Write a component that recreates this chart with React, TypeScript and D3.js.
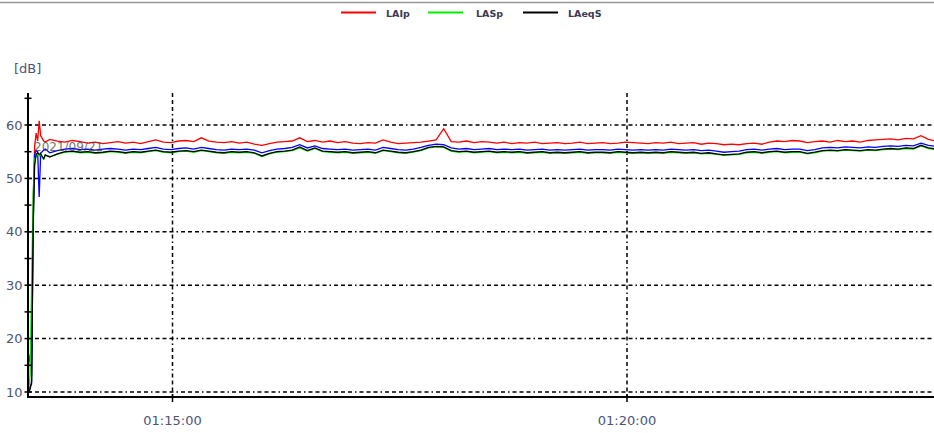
import React from "react";
import * as d3 from "d3";

// ---- data ----
const seriesNames = ["LAIp", "LASp", "LAeqS"];
const seriesColors = ["#ff0000", "#00ee00", "#000000"];
const startTime = "01:13:24"; // time of first sample
const xTickLabels = ["01:15:00", "01:20:00"];
const yTickLabels = [10, 20, 30, 40, 50, 60];
const yMinorTicks = [15, 25, 35, 45, 55, 65];
const dateLabel = "2021/09/21";

// first seconds sampled every second
const startOffsets = [0, 1, 2, 3, 4, 5, 6, 7, 8, 9, 10, 11, 12];
const redStart = [11, 15, 17, 13, 45, 56, 58.5, 57, 60.8, 58, 57.5, 57, 56.8];
const greenStart = [10, 10.5, 13, 30, 47, 53.5, 54.3, 54.5, 54.2, 54.5, 54, 53.6, 54.3];
const blueStart = [10, 10.3, 11, 11.5, 40, 54.5, 55.2, 55, 46.5, 54.8, 55, 55.3, 55.5];
const blackStart = [10, 10, 10.5, 12, 41, 52.5, 54.5, 54.8, 54.5, 54.6, 54.1, 53.7, 54.4];

// afterwards every 5 seconds, starting at second 15
const mainStart = 15;
const mainStep = 5;
const redMain = [
  57.3, 57.0, 56.8, 57.1, 56.9, 56.6, 56.8, 56.5, 56.7, 56.9,
  56.6, 56.8, 56.5, 56.9, 57.2, 56.8, 56.7, 57.0, 57.1, 56.9,
  57.6, 57.0, 56.8, 56.7, 56.9, 56.6, 56.8, 56.4, 56.2, 56.5,
  56.8, 56.9, 57.0, 57.6, 56.9, 57.1, 56.8, 57.0, 56.7, 56.9,
  56.6, 56.5, 56.7, 56.6, 57.2, 56.8, 56.5, 56.6, 56.7, 56.8,
  57.0, 57.2, 59.3, 56.9, 56.8, 57.0, 56.7, 56.9, 56.8, 56.6,
  56.8, 56.5, 56.7, 56.6, 56.8, 56.5, 56.6, 56.7, 56.5, 56.6,
  56.8, 56.5, 56.6, 56.7, 56.5, 56.6, 56.8, 56.7, 56.6, 56.5,
  56.7, 56.6, 56.8, 56.5, 56.6, 56.7, 56.4, 56.6, 56.5, 56.3,
  56.4, 56.3, 56.5, 56.6, 56.4, 56.8, 57.0, 56.9, 57.1, 57.0,
  56.7, 56.9, 57.0, 56.8, 57.1, 56.9, 57.0, 56.8, 57.1, 57.2,
  57.3, 57.4, 57.2, 57.5, 57.4, 58.0, 57.3, 57.0,
];
const blueMain = [
  54.8, 55.2, 55.5, 55.6, 55.4, 55.5, 55.3, 55.5, 55.6, 55.5,
  55.3, 55.5, 55.4, 55.6, 55.8, 55.5, 55.4, 55.6, 55.7, 55.5,
  55.8, 55.6, 55.4, 55.3, 55.5, 55.4, 55.5, 55.3, 54.8, 55.2,
  55.5, 55.6, 55.8, 56.3, 55.7, 56.1, 55.6, 55.5, 55.4, 55.5,
  55.3, 55.4, 55.5, 55.3, 55.8, 55.6, 55.4, 55.3, 55.5, 55.8,
  56.2, 56.4, 56.3, 55.7, 55.5, 55.6, 55.4, 55.5, 55.6, 55.4,
  55.5, 55.4, 55.5, 55.3, 55.4, 55.5, 55.3, 55.4, 55.3, 55.4,
  55.5, 55.3, 55.4, 55.4, 55.3, 55.5, 55.4, 55.3, 55.4, 55.3,
  55.4, 55.3, 55.5, 55.4, 55.3, 55.4, 55.2, 55.3, 55.1, 54.9,
  55.0, 55.1, 55.4, 55.5, 55.3, 55.5, 55.6, 55.4, 55.5, 55.5,
  55.2, 55.4, 55.7, 55.8, 55.7, 55.9, 55.8, 55.7, 55.9, 55.8,
  56.0, 56.1, 56.0, 56.2, 56.1, 56.6, 56.2, 56.0,
];
const greenMain = [
  54.1, 54.5, 54.9, 55.0, 54.8, 54.9, 54.7, 54.8, 55.0, 54.9,
  54.7, 54.9, 54.8, 55.0, 55.2, 54.9, 54.8, 55.0, 55.1, 54.9,
  55.2, 55.0, 54.8, 54.7, 54.9, 54.8, 54.9, 54.7, 54.1, 54.6,
  54.9, 55.0, 55.2, 55.7, 55.1, 55.6, 55.0, 54.9, 54.8, 54.9,
  54.7, 54.8, 54.9, 54.7, 55.2, 55.0, 54.8, 54.7, 54.9, 55.2,
  55.7, 55.9, 55.8, 55.1, 54.9, 55.0, 54.8, 54.9, 55.0, 54.8,
  54.9, 54.8, 54.9, 54.7, 54.8, 54.9, 54.7, 54.8, 54.7, 54.8,
  54.9, 54.7, 54.8, 54.8, 54.7, 54.9, 54.8, 54.7, 54.8, 54.7,
  54.8, 54.7, 54.9, 54.8, 54.7, 54.8, 54.6, 54.7, 54.5, 54.3,
  54.4, 54.5, 54.8, 54.9, 54.7, 54.9, 55.0, 54.8, 54.9, 54.9,
  54.6, 54.8, 55.1, 55.2, 55.1, 55.3, 55.2, 55.1, 55.3, 55.2,
  55.4, 55.5, 55.4, 55.6, 55.5, 56.1, 55.6, 55.4,
];
const blackMain = [
  54.0, 54.6, 55.0, 55.1, 54.9, 55.0, 54.8, 54.9, 55.1, 55.0,
  54.8, 55.0, 54.9, 55.1, 55.3, 55.0, 54.9, 55.1, 55.2, 55.0,
  55.3, 55.1, 54.9, 54.8, 55.0, 54.9, 55.0, 54.8, 54.2, 54.7,
  55.0, 55.1, 55.3, 55.9, 55.2, 55.7, 55.1, 55.0, 54.9, 55.0,
  54.8, 54.9, 55.0, 54.8, 55.3, 55.1, 54.9, 54.8, 55.0, 55.3,
  55.8, 56.0, 55.9, 55.2, 55.0, 55.1, 54.9, 55.0, 55.1, 54.9,
  55.0, 54.9, 55.0, 54.8, 54.9, 55.0, 54.8, 54.9, 54.8, 54.9,
  55.0, 54.8, 54.9, 54.9, 54.8, 55.0, 54.9, 54.8, 54.9, 54.8,
  54.9, 54.8, 55.0, 54.9, 54.8, 54.9, 54.7, 54.8, 54.6, 54.4,
  54.5, 54.6, 54.9, 55.0, 54.8, 55.0, 55.1, 54.9, 55.0, 55.0,
  54.7, 54.9, 55.2, 55.3, 55.2, 55.4, 55.3, 55.2, 55.4, 55.3,
  55.5, 55.6, 55.5, 55.7, 55.6, 56.2, 55.7, 55.5,
];

// ---- helpers ----
const toSec = (s: string) => {
  const [h, m, x] = s.split(":").map(Number);
  return h * 3600 + m * 60 + x;
};
const t0 = toSec(startTime);
const offsets = startOffsets.concat(redMain.map((_, i) => mainStart + i * mainStep));
const build = (a: number[], b: number[]) =>
  a.concat(b).map((v, i) => ({ t: t0 + offsets[i], v }));

const W = 934;
const H = 433;

export default function App() {
  const x = d3
    .scaleLinear()
    .domain([toSec("01:15:00"), toSec("01:20:00")])
    .range([172.5, 627]);
  const y = d3.scaleLinear().domain([10, 60]).range([392, 125]);
  const axisX = 28;
  const axisY = 397;
  const axisTop = 93;
  const line = d3
    .line<{ t: number; v: number }>()
    .x((d) => x(d.t))
    .y((d) => y(d.v));

  const series = [
    { c: "#ff0000", d: build(redStart, redMain) },
    { c: "#0000ff", d: build(blueStart, blueMain) },
    { c: "#00ee00", d: build(greenStart, greenMain) },
    { c: "#000000", d: build(blackStart, blackMain) },
  ];
  const dash = "4,3,4,3,4,3,1.5,3";
  const txtColor = "#4a5578";
  const font = "'DejaVu Sans', sans-serif";

  const legendX = [341, 428, 523];
  const legendTextX = [386, 476, 568];

  return (
    <svg
      width={W}
      height={H}
      style={{ position: "absolute", left: 0, top: 0, background: "#fff" }}
      fontFamily={font}
    >
      <defs>
        <clipPath id="plot">
          <rect x={axisX} y={axisTop} width={W - axisX} height={axisY - axisTop} />
        </clipPath>
      </defs>
      <line x1={0} x2={W} y1={2.5} y2={2.5} stroke="#999" strokeWidth={1.5} />
      {/* legend */}
      {seriesNames.map((n, i) => (
        <g key={n}>
          <line
            x1={legendX[i]}
            x2={legendX[i] + 35}
            y1={12.5}
            y2={12.5}
            stroke={seriesColors[i]}
            strokeWidth={1.8}
          />
          <text
            x={legendTextX[i]}
            y={16.5}
            fontSize={9.5}
            fontWeight="bold"
            fill="#3a3a55"
          >
            {n}
          </text>
        </g>
      ))}
      <text x={14} y={73} fontSize={13} fill={txtColor}>
        [dB]
      </text>
      {/* grid */}
      {yTickLabels.map((v) => (
        <line
          key={"g" + v}
          x1={axisX}
          x2={W}
          y1={y(v)}
          y2={y(v)}
          stroke="#000"
          strokeWidth={1.5}
          strokeDasharray={dash}
        />
      ))}
      {xTickLabels.map((s) => (
        <line
          key={"v" + s}
          x1={x(toSec(s))}
          x2={x(toSec(s))}
          y1={axisTop}
          y2={axisY}
          stroke="#000"
          strokeWidth={1.5}
          strokeDasharray={dash}
        />
      ))}
      {/* data */}
      <g clipPath="url(#plot)">
        {series.map((s, i) => (
          <path key={i} d={line(s.d) || ""} fill="none" stroke={s.c} strokeWidth={1.3} />
        ))}
      </g>
      <text x={34} y={151} fontSize={12} fill="#444" opacity={0.75}>
        {dateLabel}
      </text>
      {/* axes */}
      <line x1={axisX} x2={axisX} y1={axisTop} y2={axisY + 1} stroke="#000" strokeWidth={2} />
      <line x1={axisX - 1} x2={W} y1={axisY} y2={axisY} stroke="#000" strokeWidth={2} />
      {yTickLabels.concat(yMinorTicks).map((v) => (
        <line
          key={"t" + v}
          x1={axisX - 3.5}
          x2={axisX + 3.5}
          y1={y(v)}
          y2={y(v)}
          stroke="#000"
          strokeWidth={1.5}
        />
      ))}
      {yTickLabels.map((v) => (
        <text
          key={"l" + v}
          x={22.5}
          y={y(v)}
          dy="0.36em"
          textAnchor="end"
          fontSize={13}
          fill={txtColor}
        >
          {v}
        </text>
      ))}
      {xTickLabels.map((s) => (
        <g key={"x" + s}>
          <line
            x1={x(toSec(s))}
            x2={x(toSec(s))}
            y1={axisY - 3}
            y2={axisY + 5}
            stroke="#000"
            strokeWidth={1.5}
          />
          <text
            x={x(toSec(s))}
            y={425}
            textAnchor="middle"
            fontSize={13}
            fill={txtColor}
          >
            {s}
          </text>
        </g>
      ))}
    </svg>
  );
}
